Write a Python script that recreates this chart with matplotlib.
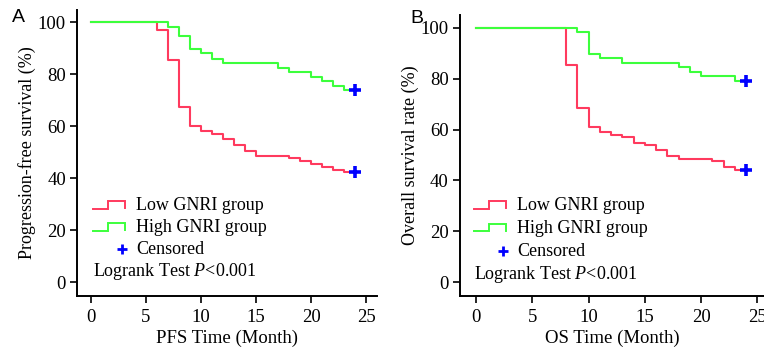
import matplotlib
matplotlib.use("Agg")
import matplotlib.pyplot as plt
from matplotlib.lines import Line2D
from matplotlib.legend_handler import HandlerBase

plt.rcParams['font.family'] = ['Liberation Serif', 'DejaVu Serif']
plt.rcParams['mathtext.fontset'] = 'custom'
plt.rcParams['mathtext.rm'] = 'Liberation Serif'
plt.rcParams['mathtext.it'] = 'Liberation Serif:italic'

# ----------------------------
# Datos
# ----------------------------
# A) PFS
pfs_low_t = [0, 6, 7, 8, 9, 10, 11, 12, 13, 14, 15, 18, 19, 20, 21, 22, 23, 24]
pfs_low_s = [100, 97, 85.3, 67.5, 60, 58.3, 57, 55, 52.8, 50.6, 48.6, 47.7, 46.5, 45.4, 44.2, 43.2, 42.2, 42.2]
pfs_high_t = [0, 7, 8, 9, 10, 11, 12, 17, 18, 20, 21, 22, 23, 24]
pfs_high_s = [100, 98.3, 94.8, 89.6, 88.1, 86, 84.3, 82.4, 80.8, 79.1, 77.4, 75.5, 73.8, 73.8]
pfs_cens_t = [24, 24]
pfs_cens_s = [42.2, 73.8]

# B) OS
os_low_t = [0, 8, 9, 10, 11, 12, 13, 14, 15, 16, 17, 18, 21, 22, 23, 24]
os_low_s = [100, 85.5, 68.5, 61.1, 59.2, 58, 57, 54.9, 53.9, 51.9, 49.7, 48.6, 47.6, 45.4, 44.3, 44.3]
os_high_t = [0, 9, 10, 11, 13, 18, 19, 20, 23, 24]
os_high_s = [100, 98.3, 89.8, 88, 86.2, 84.4, 82.8, 80.9, 79.2, 79.2]
os_cens_t = [24, 24]
os_cens_s = [44.3, 79.2]

xticks = [0, 5, 10, 15, 20, 25]
yticks = [0, 20, 40, 60, 80, 100]

RED = '#ff3a5e'
GREEN = '#3cff3c'
BLUE = '#0000ff'


class StepHandler(HandlerBase):
    # icono escalonado para la leyenda
    def create_artists(self, legend, orig_handle, xdescent, ydescent,
                       width, height, fontsize, trans):
        x0 = -xdescent
        y0 = -ydescent
        lo, hi = y0 + 0.12 * height, y0 + 0.72 * height
        xs = [x0, x0 + 0.46 * width, x0 + 0.46 * width, x0 + width, x0 + width]
        ys = [lo, lo, hi, hi, lo + 0.05 * height]
        ln = Line2D(xs, ys, color=orig_handle.get_color(), lw=1.4,
                    solid_joinstyle='miter')
        ln.set_transform(trans)
        return [ln]


class CensHandler(HandlerBase):
    def create_artists(self, legend, orig_handle, xdescent, ydescent,
                       width, height, fontsize, trans):
        m = Line2D([-xdescent + 0.9 * width], [-ydescent + 0.4 * height],
                   ls='none', marker='+', color=BLUE, ms=7, mew=2)
        m.set_transform(trans)
        return [m]


def km_panel(ax, low_t, low_s, high_t, high_s, cens_t, cens_s,
             xlabel, ylabel, xlim, ylim, leg_xy, leg_sp, txt_xy):
    l1, = ax.step(low_t, low_s, where='post', color=RED, lw=1.5)
    l2, = ax.step(high_t, high_s, where='post', color=GREEN, lw=1.5)
    c, = ax.plot(cens_t, cens_s, ls='none', marker='+', color=BLUE,
                 ms=9, mew=2.6, zorder=5)
    ax.set_xlim(*xlim)
    ax.set_ylim(*ylim)
    ax.set_xticks(xticks)
    ax.set_yticks(yticks)
    for s in ['top', 'right']:
        ax.spines[s].set_visible(False)
    for s in ['left', 'bottom']:
        ax.spines[s].set_linewidth(1.4)
    ax.tick_params(direction='out', length=5, width=1.2, labelsize=13.5)
    ax.tick_params(axis='x', pad=4)
    ax.tick_params(axis='y', pad=3)
    ax.set_xlabel(xlabel, fontsize=13.5, labelpad=3)
    ax.set_ylabel(ylabel, fontsize=13, labelpad=1)
    leg = ax.legend([l1, l2, c], ['Low GNRI group', 'High GNRI group', 'Censored'],
                    handler_map={l1: StepHandler(), l2: StepHandler(), c: CensHandler()},
                    loc='upper left', bbox_to_anchor=leg_xy,
                    frameon=False, fontsize=13, handlelength=1.8,
                    handletextpad=0.6, labelspacing=leg_sp, borderaxespad=0,
                    borderpad=0)
    ax.text(txt_xy[0], txt_xy[1], 'Logrank Test $P$<0.001', transform=ax.transAxes,
            fontsize=13, va='center', ha='left')
    return leg


fig = plt.figure(figsize=(7.64, 3.48), dpi=100)
axA = fig.add_axes([0.1008, 0.1494, 0.3927, 0.8219])
axB = fig.add_axes([0.6017, 0.1494, 0.3983, 0.8075])

km_panel(axA, pfs_low_t, pfs_low_s, pfs_high_t, pfs_high_s, pfs_cens_t, pfs_cens_s,
         'PFS Time (Month)', 'Progression-free survival (%)', (-1.27, 26), (-5.3, 104.7),
         (0.053, 0.345), 0.26, (0.054, 0.085))
km_panel(axB, os_low_t, os_low_s, os_high_t, os_high_s, os_cens_t, os_cens_s,
         'OS Time (Month)', 'Overall survival rate (%)', (-1.45, 25.6), (-5.4, 105),
         (0.046, 0.352), 0.32, (0.046, 0.075))

fig.text(0.024, 0.951, 'A', fontsize=14, family='Liberation Sans', ha='center', va='center')
fig.text(0.545, 0.948, 'B', fontsize=14, family='Liberation Sans', ha='center', va='center')

fig.savefig('out.png', dpi=100)
